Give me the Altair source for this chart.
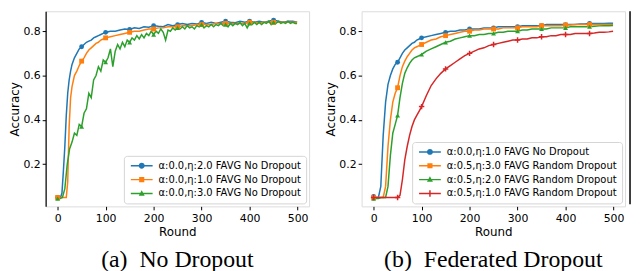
import altair as alt
import pandas as pd

# ---------------- data: panel (a) No Dropout ----------------
names_a = ["α:0.0,η:2.0 FAVG No Dropout",
           "α:0.0,η:1.0 FAVG No Dropout",
           "α:0.0,η:3.0 FAVG No Dropout"]

rounds_a = [0, 3, 6, 9, 12, 15, 18, 21, 24, 27, 30, 35, 40, 45, 50, 55, 60, 65, 70, 75,
            80, 85, 90, 95, 100] + list(range(110, 500, 10)) + [499]

blue_a = [.05, .05, .05, .07, .17, .28, .42, .52, .58, .62, .65, .68, .70, .72, .73, .74, .75, .755, .76, .77,
          .775, .78, .785, .79, .795,
          .80, .80, .805, .81, .808, .815, .812, .82, .818, .825, .822, .82, .83, .825, .83, .835, .83, .835, .832,
          .84, .835, .84, .835, .84, .845, .84, .838, .845, .84, .845, .84, .845, .84, .845, .85, .845, .84, .845, .845,
          .84]

orange_a = [.05, .05, .05, .05, .05, .05, .05, .12, .37, .50, .55, .60, .62, .645, .665, .68, .70, .715, .725, .735,
            .745, .75, .76, .765, .77,
            .775, .78, .785, .79, .795, .80, .80, .805, .81, .81, .815, .815, .82, .82, .82, .825, .825, .825, .83,
            .83, .83, .83, .835, .835, .835, .835, .835, .835, .835, .84, .84, .838, .84, .84, .84, .84, .84, .84, .84,
            .84]

rounds_green_a = list(range(0, 500, 5)) + [499]
green_a = [.045, .045, .05, .09, .20, .27, .30, .34, .33, .38, .37, .43, .45, .52, .50, .58, .60, .64, .62, .67, .66,
           .68, .72, .64, .71, .74, .72, .75, .73, .76, .75, .77, .76, .78, .765, .785, .77, .79, .78, .80, .785,
           .80, .79, .81, .795, .76, .805, .80, .815, .805, .815, .81, .82, .81, .825, .815, .82, .81, .825, .82, .83,
           .815, .825, .82, .83, .82, .83, .825, .835, .825, .83, .82, .835, .825, .835, .83, .84, .825, .835, .815, .835,
           .83, .84, .83, .84, .83, .84, .835, .845, .83, .84, .835, .845, .835, .84, .835, .845, .835, .84, .835,
           .835]

# ---------------- data: panel (b) Federated Dropout ----------------
names_b = ["α:0.0,η:1.0 FAVG No Dropout",
           "α:0.5,η:3.0 FAVG Random Dropout",
           "α:0.5,η:2.0 FAVG Random Dropout",
           "α:0.5,η:1.0 FAVG Random Dropout"]

rounds_b = list(range(0, 100, 5)) + list(range(100, 500, 10)) + [499]

blue_b = [.055, .05, .05, .10, .33, .48, .56, .60, .63, .65, .66, .68, .70, .715, .725, .735, .745, .75, .76, .765,
          .77, .775, .78, .785, .79, .795, .80, .80, .805, .805,
          .81, .81, .81, .815, .815, .815, .82, .82, .82, .82,
          .82, .825, .825, .825, .825, .825, .83, .83, .83, .83,
          .83, .83, .83, .832, .833, .835, .835, .835, .835, .836,
          .836]

orange_b = [.05, .05, .05, .05, .05, .10, .28, .40, .48, .52, .545, .60, .64, .665, .685, .70, .715, .725, .73, .735,
            .74, .75, .76, .765, .775, .78, .785, .79, .795, .80,
            .80, .805, .805, .81, .81, .81, .81, .815, .815, .815,
            .815, .82, .82, .82, .82, .825, .825, .825, .825, .825,
            .828, .828, .83, .83, .83, .83, .83, .83, .83, .83,
            .83]

green_b = [.045, .045, .045, .05, .05, .05, .10, .24, .34, .38, .42, .50, .565, .61, .635, .655, .67, .68, .685, .69,
           .695, .71, .72, .73, .74, .75, .755, .765, .77, .775,
           .78, .78, .785, .785, .79, .79, .795, .795, .80, .80,
           .80, .805, .805, .81, .81, .81, .81, .815, .815, .815,
           .815, .82, .82, .82, .82, .82, .822, .824, .825, .825,
           .826]

red_b = [.05, .05, .05, .05, .05, .05, .05, .05, .05, .05, .05, .06, .13, .22, .28, .33, .37, .40, .42, .44,
         .46, .51, .555, .585, .61, .63, .645, .66, .675, .69,
         .70, .71, .72, .725, .735, .74, .745, .75, .755, .76,
         .76, .765, .765, .77, .77, .775, .775, .78, .78, .785,
         .785, .785, .79, .79, .79, .79, .792, .795, .795, .797,
         .80]

colors_a = ["#1f77b4", "#ff7f0e", "#2ca02c"]
colors_b = ["#1f77b4", "#ff7f0e", "#2ca02c", "#d62728"]

x_ticks = [0, 100, 200, 300, 400, 500]
y_ticks = [0.2, 0.4, 0.6, 0.8]
x_domain = [-25, 524]
y_domain = [0.01, 0.89]

# marker shapes in the plot
PLUS = "M-1,0H1M0,-1V1"
marker_a = [("circle", True), ("square", True), ("triangle-up", True)]
marker_b = [("circle", True), ("square", True), ("triangle-up", True), (PLUS, False)]

# legend symbols: a line segment with the marker on it (filled paths)
LINE = "M-5.5,-0.375H5.5V0.375H-5.5Z"
L_CIRCLE = LINE + "M1.5,0A1.5,1.5 0 1,1 -1.5,0A1.5,1.5 0 1,1 1.5,0Z"
L_SQUARE = LINE + "M-1.3,-1.3H1.3V1.3H-1.3Z"
L_TRI = LINE + "M0,-1.7L1.5,1.1H-1.5Z"
L_PLUS = LINE + "M-0.375,-1.7H0.375V1.7H-0.375Z"
legend_paths_a = [L_CIRCLE, L_SQUARE, L_TRI]
legend_paths_b = [L_CIRCLE, L_SQUARE, L_TRI, L_PLUS]


def make_df(series):
    rows = []
    for name, rr, vv in series:
        for r, v in zip(rr, vv):
            rows.append({"round": r, "acc": v, "series": name})
    return pd.DataFrame(rows)


df_a = make_df([(names_a[0], rounds_a, blue_a),
                (names_a[1], rounds_a, orange_a),
                (names_a[2], rounds_green_a, green_a)])
df_b = make_df([(names_b[0], rounds_b, blue_b),
                (names_b[1], rounds_b, orange_b),
                (names_b[2], rounds_b, green_b),
                (names_b[3], rounds_b, red_b)])

W = 266
H = 197


def panel(df, names, colors, markers, legend_paths, caption, left_domain, right_edge):
    cscale = alt.Scale(domain=names, range=colors)
    xs = alt.Scale(domain=x_domain, nice=False, zero=False)
    ys = alt.Scale(domain=y_domain, nice=False, zero=False)
    x = alt.X("round:Q", scale=xs,
              axis=alt.Axis(values=x_ticks, title="Round", domain=False, grid=False,
                            tickSize=3.5, labelPadding=3, titlePadding=3))
    y = alt.Y("acc:Q", scale=ys,
              axis=alt.Axis(values=y_ticks, format=".1f", title="Accuracy", grid=False,
                            domain=left_domain, domainColor="black", domainWidth=1.2,
                            tickSize=3.5, labelPadding=2, titlePadding=1))
    base = alt.Chart(df)
    leg = alt.Legend(title=None, orient="bottom-right", offset=3,
                     labelFont="DejaVu Sans", labelFontSize=10, labelColor="black",
                     labelLimit=400, symbolSize=16, symbolOffset=8, labelOffset=12,
                     rowPadding=4, padding=5, fillColor="white", strokeColor="#d5d5d5",
                     cornerRadius=3, symbolStrokeWidth=0)
    layers = [
        base.transform_filter("false")
        .mark_point(filled=True, size=16, opacity=1)
        .encode(x=x, y=y,
                color=alt.Color("series:N", scale=cscale, legend=leg),
                shape=alt.Shape("series:N", scale=alt.Scale(domain=names, range=legend_paths), legend=leg))
    ]
    for i, name in enumerate(names):
        layers.append(
            base.transform_filter(alt.FieldEqualPredicate(field="series", equal=name))
            .mark_line(strokeWidth=1.5)
            .encode(x=x, y=y, color=alt.Color("series:N", scale=cscale, legend=None))
        )
    for i, name in enumerate(names):
        shape, filled = markers[i]
        layers.append(
            base.transform_filter(alt.FieldEqualPredicate(field="series", equal=name))
            .transform_filter("datum.round % 50 == 0")
            .mark_point(shape=shape, filled=filled, size=24 if filled else 30,
                        strokeWidth=1.5, opacity=1)
            .encode(x=x, y=y, color=alt.Color("series:N", scale=cscale, legend=None))
        )
    if right_edge:
        layers.append(
            alt.Chart(pd.DataFrame({"edge": [x_domain[1]]}))
            .mark_rule(color="black", strokeWidth=1.5, xOffset=5)
            .encode(x=alt.X("edge:Q", scale=xs),
                    y=alt.datum(y_domain[1]), y2=alt.datum(0.02))
        )
    ch = alt.layer(*layers)
    return ch.properties(
        width=W, height=H,
        title=alt.TitleParams(caption, orient="bottom", font="Liberation Serif", fontSize=24,
                              fontWeight="normal", color="black", anchor="middle", offset=11),
    )


pa = panel(df_a, names_a, colors_a, marker_a, legend_paths_a,
           "(a)\u00a0\u00a0No Dropout", True, False)
pb = panel(df_b, names_b, colors_b, marker_b, legend_paths_b,
           "(b)\u00a0\u00a0Federated Dropout", False, True)

chart = alt.hconcat(pa, pb, spacing=14).resolve_scale(
    color="independent", shape="independent"
).resolve_legend(
    color="independent", shape="independent"
).properties(padding=0).configure_view(
    stroke="#dcdcdc", strokeWidth=1
).configure_axis(
    labelFont="DejaVu Sans", labelFontSize=11, labelColor="black",
    titleFont="DejaVu Sans", titleFontSize=12, titleFontWeight="normal", titleColor="black",
    tickColor="black", tickWidth=1
)

chart.save("out.html", embed_options={"renderer": "svg", "actions": False})
